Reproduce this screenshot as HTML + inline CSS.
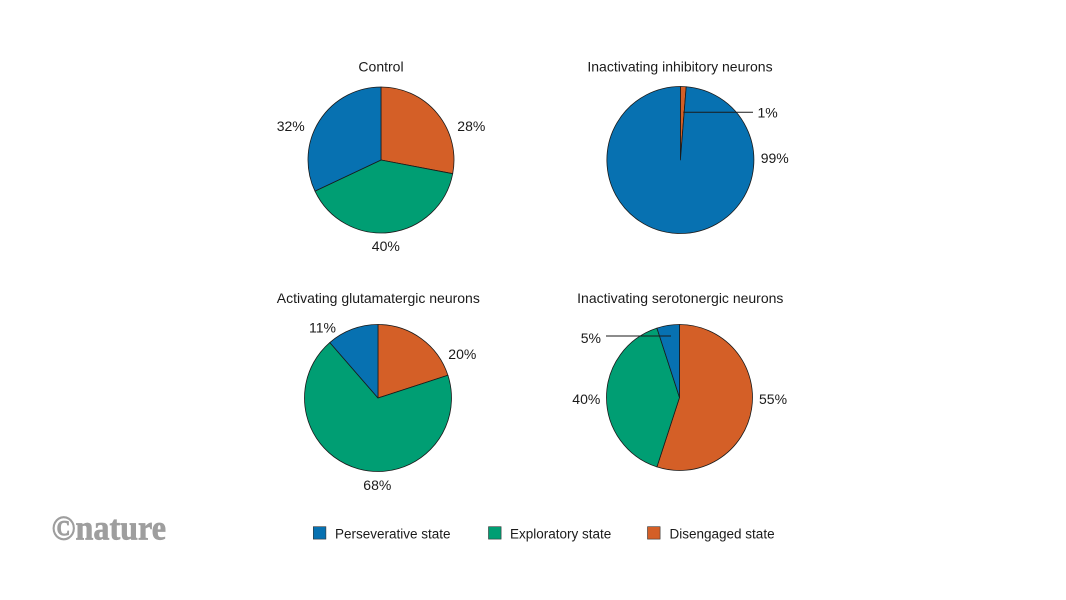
<!DOCTYPE html>
<html>
<head>
<meta charset="utf-8">
<style>
  html, body { margin: 0; padding: 0; background: #ffffff; }
  body { width: 1066px; height: 600px; overflow: hidden; }
  svg { display: block; }
  text { font-family: "Liberation Sans", Arial, sans-serif; fill: #1a1a1a; }
</style>
</head>
<body>
<svg width="1066" height="600" viewBox="0 0 1066 600" xmlns="http://www.w3.org/2000/svg">
  <rect width="1066" height="600" fill="#ffffff"/>

  <g stroke="#1a1a1a" stroke-width="0.8" stroke-linejoin="round">
    <!-- Control -->
    <path d="M381,160 L381,87 A73,73 0 0 1 452.7,173.7 Z" fill="#d45f27"/>
    <path d="M381,160 L452.7,173.7 A73,73 0 0 1 314.95,191.08 Z" fill="#009e73"/>
    <path d="M381,160 L314.95,191.08 A73,73 0 0 1 381,87 Z" fill="#0771b1"/>

    <!-- Inactivating inhibitory neurons -->
    <path d="M680.4,160 L680.4,86.5 A73.5,73.5 0 0 1 686.2,86.73 Z" fill="#d45f27"/>
    <path d="M680.4,160 L686.2,86.73 A73.5,73.5 0 1 1 680.4,86.5 Z" fill="#0771b1"/>

    <!-- Activating glutamatergic neurons -->
    <path d="M378,398 L378,324.5 A73.5,73.5 0 0 1 447.9,375.29 Z" fill="#d45f27"/>
    <path d="M378,398 L447.9,375.29 A73.5,73.5 0 1 1 329.78,342.53 Z" fill="#009e73"/>
    <path d="M378,398 L329.78,342.53 A73.5,73.5 0 0 1 378,324.5 Z" fill="#0771b1"/>

    <!-- Inactivating serotonergic neurons -->
    <path d="M679.5,397.5 L679.5,324.5 A73,73 0 1 1 656.94,466.93 Z" fill="#d45f27"/>
    <path d="M679.5,397.5 L656.94,466.93 A73,73 0 0 1 656.94,328.07 Z" fill="#009e73"/>
    <path d="M679.5,397.5 L656.94,328.07 A73,73 0 0 1 679.5,324.5 Z" fill="#0771b1"/>
  </g>

  <!-- leader lines -->
  <line x1="683.3" y1="112.3" x2="753" y2="112.3" stroke="#1a1a1a" stroke-width="1"/>
  <line x1="606" y1="336" x2="671" y2="336" stroke="#1a1a1a" stroke-width="1"/>

  <!-- titles -->
  <g font-size="14" text-anchor="middle">
    <text x="381" y="71.5">Control</text>
    <text x="680" y="71.5">Inactivating inhibitory neurons</text>
    <text x="378.3" y="303">Activating glutamatergic neurons</text>
    <text x="680.3" y="303">Inactivating serotonergic neurons</text>
  </g>

  <!-- percentage labels -->
  <g font-size="14">
    <text x="276.7" y="131">32%</text>
    <text x="457.3" y="131">28%</text>
    <text x="385.8" y="251" text-anchor="middle">40%</text>

    <text x="757.5" y="117.5">1%</text>
    <text x="760.7" y="163">99%</text>

    <text x="309" y="332.5">11%</text>
    <text x="448.3" y="359">20%</text>
    <text x="363.3" y="490">68%</text>

    <text x="580.7" y="343">5%</text>
    <text x="572.3" y="404">40%</text>
    <text x="759" y="404">55%</text>
  </g>

  <!-- legend -->
  <g stroke="#333" stroke-width="0.6">
    <rect x="313.3" y="526.7" width="12.6" height="12.4" fill="#0771b1"/>
    <rect x="488.5" y="526.7" width="12.6" height="12.4" fill="#009e73"/>
    <rect x="647.5" y="526.7" width="12.6" height="12.4" fill="#d45f27"/>
  </g>
  <g font-size="13.5">
    <text x="335" y="538.3">Perseverative state</text>
    <text x="510" y="538.3">Exploratory state</text>
    <text x="669.5" y="538.3">Disengaged state</text>
  </g>

  <!-- logo -->
  <text x="51.5" y="539.3" font-family="'Liberation Serif', 'Times New Roman', serif" font-weight="bold" font-size="35" style="fill:#9e9e9e;stroke:#9e9e9e;stroke-width:0.7;font-family:'Liberation Serif','Times New Roman',serif" textLength="114.5" lengthAdjust="spacingAndGlyphs">©nature</text>
</svg>
</body>
</html>
